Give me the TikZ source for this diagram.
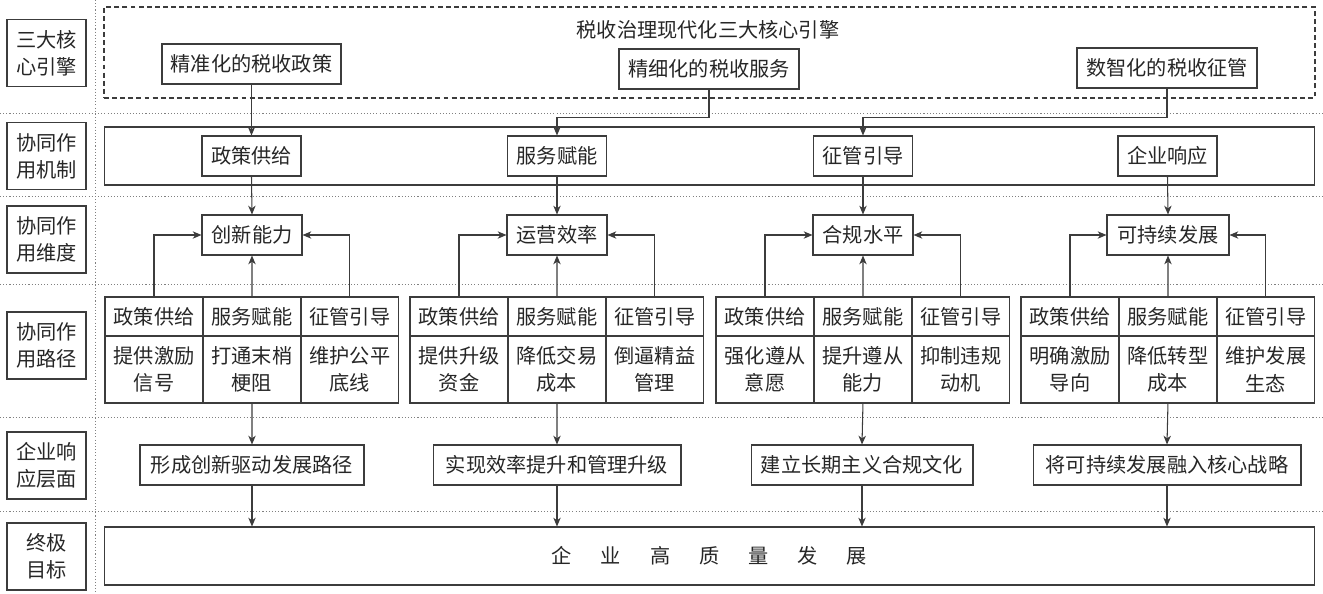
\documentclass[tikz,border=0pt]{standalone}
\usepackage{fontspec}
\newfontfamily\cjk{Noto Sans CJK SC}
\usetikzlibrary{positioning, arrows.meta}
\definecolor{linec}{HTML}{3C3C3C}
\definecolor{textc}{HTML}{262626}
\tikzstyle{box}=[rectangle, draw=linec, line width=0.6pt, text=textc,
                 inner sep=0pt, minimum height=0.8cm, align=center]
\tikzstyle{rowlab}=[box, minimum width=1.58cm, minimum height=1.34cm]
\tikzstyle{cell}=[box, outer sep=0pt, minimum width=1.96cm, minimum height=0.78cm]
\tikzstyle{cellb}=[cell, minimum height=1.34cm]
\tikzstyle{wide}=[box, minimum width=24.22cm, minimum height=1.16cm]
\tikzstyle{arr}=[draw=linec, line width=0.6pt,
                 -{Stealth[length=5pt,width=4.2pt,inset=1.5pt]}]
\tikzstyle{sep}=[draw=gray, line width=0.5pt, dash pattern=on 0.6pt off 1.2pt]

\begin{document}
\begin{tikzpicture}[x=0.02cm, y=-0.02cm,
  every node/.style={font=\cjk\fontsize{11.5pt}{15.5pt}\selectfont}]
  \useasboundingbox (0,0) rectangle (1323,593);

  % Separators between the layers
  \draw[sep] (95,0) -- (95,593);
  \draw[sep] (0,113) -- (1323,113);
  \draw[sep] (0,196) -- (1323,196);
  \draw[sep] (0,284) -- (1323,284);
  \draw[sep] (0,417) -- (1323,417);
  \draw[sep] (0,511) -- (1323,511);

  % Layer names on the left
  \node[rowlab] (lab1) at (46.5,53) {三大核\\心引擎};
  \node[rowlab] (lab2) at (46.5,156) {协同作\\用机制};
  \node[rowlab] (lab3) at (46.5,239.5) {协同作\\用维度};
  \node[rowlab] (lab4) at (46.5,345.5) {协同作\\用路径};
  \node[rowlab] (lab5) at (46.5,465.5) {企业响\\应层面};
  \node[rowlab] (lab6) at (46.5,556.5) {终极\\目标};

  % Three core engines
  \node[box, dashed, line width=0.8pt, dash pattern=on 2.8pt off 1.8pt,
        minimum width=24.22cm, minimum height=1.82cm] (engine) at (709.5,52.5) {};
  \node[text=textc] (title) at (708,30) {税收治理现代化三大核心引擎};
  \node[box, minimum width=3.58cm] (pol) at (251.5,64) {精准化的税收政策};
  \node[box, minimum width=3.6cm] (srv) at (709,69) {精细化的税收服务};
  \node[box, minimum width=3.6cm] (col) at (1167,68) {数智化的税收征管};

  % Mechanisms
  \node[wide] (mech) at (709.5,156) {};
  \node[box, minimum width=1.98cm] (m1) at (251.5,156) {政策供给};
  \node[box, minimum width=1.98cm] (m2) at (557,156) {服务赋能};
  \node[box, minimum width=1.98cm] (m3) at (863,156) {征管引导};
  \node[box, minimum width=1.98cm] (m4) at (1167.5,156) {企业响应};

  % Dimensions
  \node[box, minimum width=2cm] (d1) at (252,235) {创新能力};
  \node[box, minimum width=2cm] (d2) at (557,235) {运营效率};
  \node[box, minimum width=2cm] (d3) at (863,235) {合规水平};
  \node[box, minimum width=2.44cm] (d4) at (1168,235) {可持续发展};

  % Paths, table 1
  \node[cell] (p11) at (154,316.5) {政策供给};
  \node[cell, right=0pt of p11] (p12) {服务赋能};
  \node[cell, right=0pt of p12] (p13) {征管引导};
  \node[cellb, below=0pt of p11] (q11) {提供激励\\信号};
  \node[cellb, below=0pt of p12] (q12) {打通末梢\\梗阻};
  \node[cellb, below=0pt of p13] (q13) {维护公平\\底线};
  % table 2
  \node[cell] (p21) at (459,316.5) {政策供给};
  \node[cell, right=0pt of p21] (p22) {服务赋能};
  \node[cell, right=0pt of p22] (p23) {征管引导};
  \node[cellb, below=0pt of p21] (q21) {提供升级\\资金};
  \node[cellb, below=0pt of p22] (q22) {降低交易\\成本};
  \node[cellb, below=0pt of p23] (q23) {倒逼精益\\管理};
  % table 3
  \node[cell] (p31) at (765,316.5) {政策供给};
  \node[cell, right=0pt of p31] (p32) {服务赋能};
  \node[cell, right=0pt of p32] (p33) {征管引导};
  \node[cellb, below=0pt of p31] (q31) {强化遵从\\意愿};
  \node[cellb, below=0pt of p32] (q32) {提升遵从\\能力};
  \node[cellb, below=0pt of p33] (q33) {抑制违规\\动机};
  % table 4
  \node[cell] (p41) at (1070,316.5) {政策供给};
  \node[cell, right=0pt of p41] (p42) {服务赋能};
  \node[cell, right=0pt of p42] (p43) {征管引导};
  \node[cellb, below=0pt of p41] (q41) {明确激励\\导向};
  \node[cellb, below=0pt of p42] (q42) {降低转型\\成本};
  \node[cellb, below=0pt of p43] (q43) {维护发展\\生态};

  % Responses
  \node[box, minimum width=4.48cm] (r1) at (252,465) {形成创新驱动发展路径};
  \node[box, minimum width=4.96cm] (r2) at (557,465) {实现效率提升和管理升级};
  \node[box, minimum width=4.44cm] (r3) at (862,465) {建立长期主义合规文化};
  \node[box, minimum width=5.36cm] (r4) at (1167,465) {将可持续发展融入核心战略};

  % Goal
  \node[wide] (goal) at (709.5,556) {企\hspace{16.5pt}业\hspace{16.5pt}高\hspace{16.5pt}质\hspace{16.5pt}量\hspace{16.5pt}发\hspace{16.5pt}展};

  % Engines to mechanisms
  \draw[arr] (pol.south) -- (m1.north);
  \draw[arr] (srv.south) -- ++(0,28) -| (m2.north);
  \draw[arr] (col.south) -- ++(0,29) -| (m3.north);

  % Mechanisms to dimensions
  \draw[arr] (m1.south) -- (d1.north);
  \draw[arr] (m2.south) -- (d2.north);
  \draw[arr] (m3.south) -- (d3.north);
  \draw[arr] (m4.south) -- (d4.north);

  % Paths to dimensions
  \draw[arr] (p11.north) |- (d1.west);
  \draw[arr] (p12.north) -- (d1.south);
  \draw[arr] (p13.north) |- (d1.east);
  \draw[arr] (p21.north) |- (d2.west);
  \draw[arr] (p22.north) -- (d2.south);
  \draw[arr] (p23.north) |- (d2.east);
  \draw[arr] (p31.north) |- (d3.west);
  \draw[arr] (p32.north) -- (d3.south);
  \draw[arr] (p33.north) |- (d3.east);
  \draw[arr] (p41.north) |- (d4.west);
  \draw[arr] (p42.north) -- (d4.south);
  \draw[arr] (p43.north) |- (d4.east);

  % Paths to responses, responses to goal
  \draw[arr] (q12.south) -- (r1.north);
  \draw[arr] (q22.south) -- (r2.north);
  \draw[arr] (q32.south) -- (r3.north);
  \draw[arr] (q42.south) -- (r4.north);
  \draw[arr] (r1.south) -- (r1.south |- goal.north);
  \draw[arr] (r2.south) -- (r2.south |- goal.north);
  \draw[arr] (r3.south) -- (r3.south |- goal.north);
  \draw[arr] (r4.south) -- (r4.south |- goal.north);
\end{tikzpicture}
\end{document}
